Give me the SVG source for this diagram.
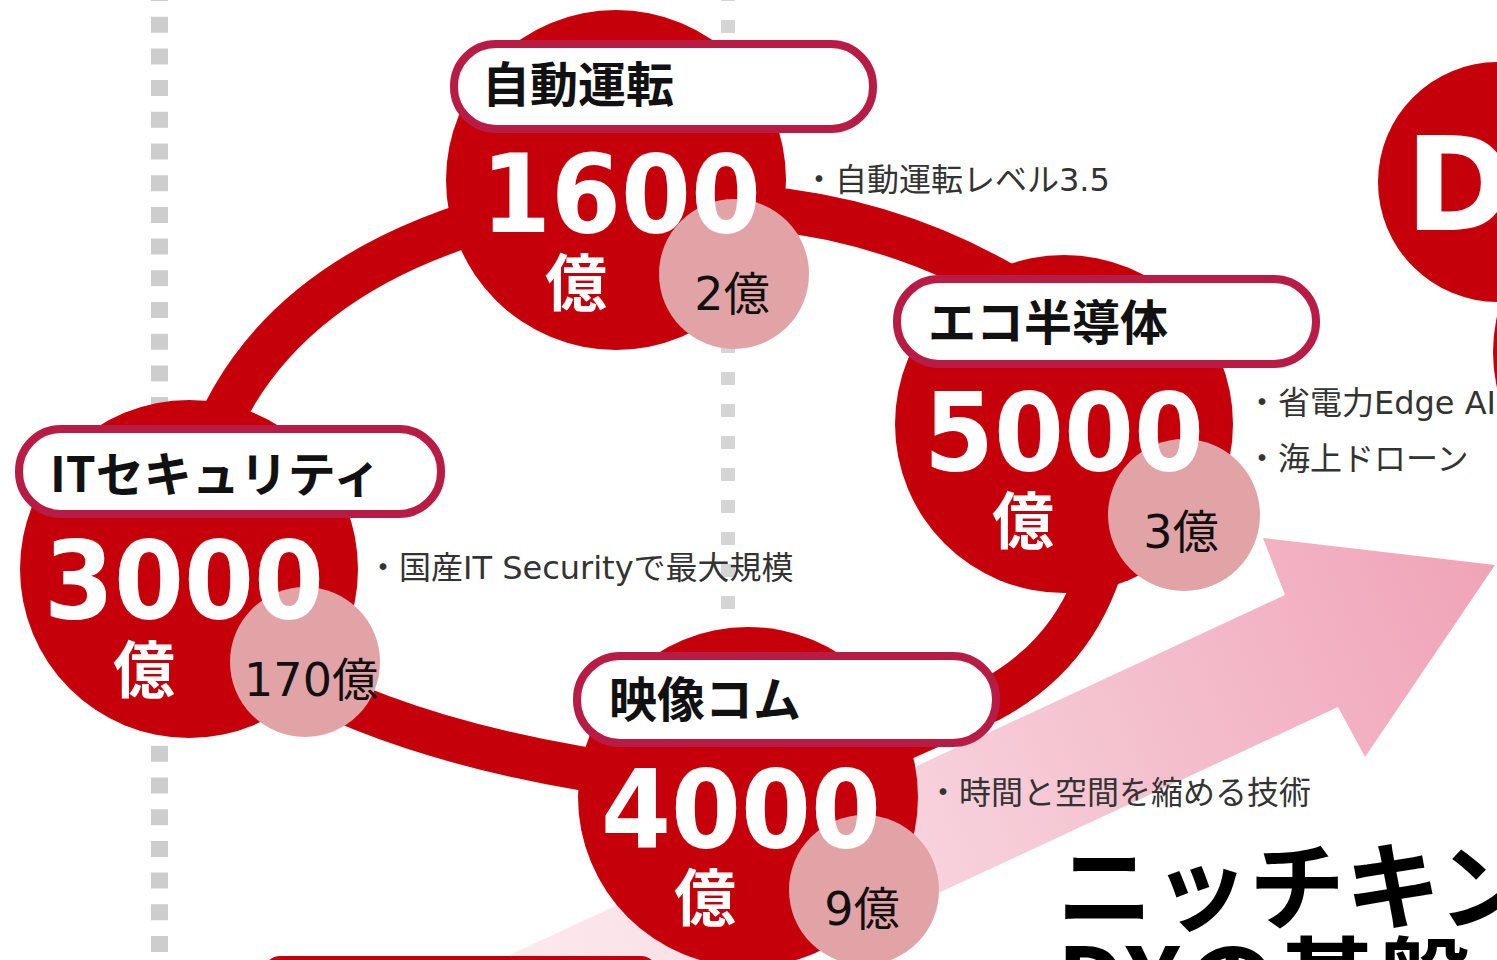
<svg xmlns="http://www.w3.org/2000/svg" width="1497" height="960" viewBox="0 0 1497 960">
<defs>
<linearGradient id="arrowGrad" gradientUnits="userSpaceOnUse" x1="450" y1="1000" x2="1495" y2="565">
<stop offset="0" stop-color="#fdeef2"/>
<stop offset="0.5" stop-color="#f6cdd8"/>
<stop offset="1" stop-color="#f0a3b7"/>
</linearGradient>
</defs>
<style>
.big{fill:#c6000b}
.sub{fill:#e2a3a6}
.pill{fill:#fff;stroke:#b81c45;stroke-width:8}
.band{fill:none;stroke:#c6000b;stroke-width:44}
.num{font-family:"DejaVu Sans Condensed","DejaVu Sans",sans-serif;font-weight:bold;font-size:108px;fill:#fff}
.oku{font-family:"Noto Sans CJK JP",sans-serif;font-weight:bold;font-size:62px;fill:#fff;text-anchor:middle}
.small{font-family:"DejaVu Sans","Noto Sans CJK JP",sans-serif;font-size:46px;fill:#111;text-anchor:middle}
.title{font-family:"Noto Sans CJK JP",sans-serif;font-weight:bold;font-size:48px;fill:#111}
.note{font-family:"DejaVu Sans","Noto Sans CJK JP",sans-serif;font-size:32px;fill:#333}
.head{font-family:"Noto Sans CJK JP",sans-serif;font-weight:bold;font-size:96px;fill:#000}
.dots{fill:none}
</style>
<rect x="0" y="0" width="1497" height="960" fill="#fff"/>
<g id="dotted-lines">
<line class="dots" x1="159.5" y1="0" x2="159.5" y2="960" stroke="#cdcdcd" stroke-width="17" stroke-dasharray="16 15.7" stroke-dashoffset="15"/>
<line class="dots" x1="728" y1="0" x2="728" y2="612" stroke="#d5d5d5" stroke-width="14" stroke-dasharray="13 19" stroke-dashoffset="12"/>
</g>
<g id="growth-arrow">
<polygon points="400,1006 1285,595 1263,538 1495,565 1365,757 1338,707 700,1004" fill="url(#arrowGrad)"/>
</g>
<rect id="bottom-bar" x="264" y="956" width="393" height="60" rx="16" fill="#c6000b"/>
<g id="connectors">
<path class="band" d="M205 460 Q270 265 540 205"/>
<path class="band" d="M700 205 Q880 205 1030 300"/>
<path class="band" d="M1110 530 C1095 610 1055 665 990 700 L900 740"/>
<path class="band" d="M280 670 Q420 750 660 780"/>
</g>
<g id="node-autonomous">
<circle class="big" cx="616" cy="180" r="170"/>
<circle class="sub" cx="734" cy="274" r="75"/>
<rect class="pill" x="454" y="44" width="419" height="85" rx="42"/>
<text class="title" x="482" y="102">自動運転</text>
<text class="num" x="481" y="232" textLength="280" lengthAdjust="spacingAndGlyphs">1600</text>
<text class="oku" x="576" y="306">億</text>
<text class="small" x="732" y="310">2億</text>
<text class="note" x="803" y="191">・自動運転レベル3.5</text>
</g>
<g id="node-itsec">
<circle class="big" cx="189" cy="569" r="169"/>
<circle class="sub" cx="305" cy="662" r="75"/>
<rect class="pill" x="19" y="429" width="422" height="85" rx="42"/>
<text class="title" x="50" y="492">ITセキュリティ</text>
<text class="num" x="44" y="618" textLength="280" lengthAdjust="spacingAndGlyphs">3000</text>
<text class="oku" x="144" y="693">億</text>
<text class="small" x="311" y="696">170億</text>
<text class="note" x="367" y="579">・国産IT Securityで最大規模</text>
</g>
<g id="node-eco">
<circle class="big" cx="1064" cy="424" r="169"/>
<circle class="sub" cx="1184" cy="515" r="76"/>
<rect class="pill" x="897" y="279" width="419" height="85" rx="42"/>
<text class="title" x="928" y="340">エコ半導体</text>
<text class="num" x="924" y="470" textLength="280" lengthAdjust="spacingAndGlyphs">5000</text>
<text class="oku" x="1023" y="544">億</text>
<text class="small" x="1181" y="548">3億</text>
<text class="note" x="1246" y="414">・省電力Edge AI</text>
<text class="note" x="1246" y="470">・海上ドローン</text>
</g>
<g id="node-video">
<circle class="big" cx="748" cy="797" r="170"/>
<circle class="sub" cx="864" cy="890" r="75"/>
<rect class="pill" x="577" y="656" width="419" height="87" rx="43"/>
<text class="title" x="609" y="717">映像コム</text>
<text class="num" x="601" y="847" textLength="280" lengthAdjust="spacingAndGlyphs">4000</text>
<text class="oku" x="705" y="921">億</text>
<text class="small" x="862" y="925">9億</text>
<text class="note" x="927" y="804">・時間と空間を縮める技術</text>
</g>
<g id="node-dx">
<circle class="big" cx="1498" cy="182" r="120"/>
<text class="num" x="1405" y="230" style="font-family:'DejaVu Sans',sans-serif;font-size:130px">D</text>
<circle class="big" cx="1655" cy="352" r="162"/>
</g>
<g id="heading">
<text class="head" x="1057" y="922">ニッチキン</text>
<text class="head" x="1057" y="1017">DXの基盤</text>
</g>
</svg>
